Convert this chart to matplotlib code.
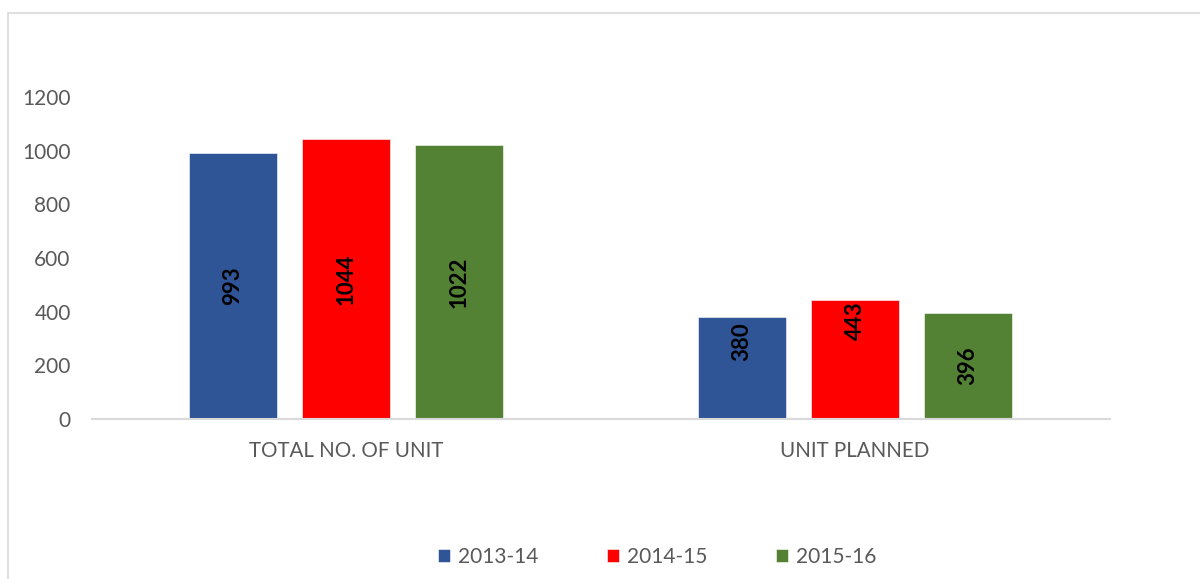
#!/usr/bin/env python3

import matplotlib.pyplot as plt
import numpy as np
from matplotlib.patches import Rectangle


CATEGORIES = ["TOTAL NO. OF UNIT", "UNIT PLANNED"]
YEARS = ["2013-14", "2014-15", "2015-16"]
VALUES = {
    "2013-14": [993, 380],
    "2014-15": [1044, 443],
    "2015-16": [1022, 396],
}
COLORS = ["#2F5597", "#FF0000", "#548235"]

# labels that sit off the bar centre
LABEL_Y = {("2013-14", 1): 287, ("2014-15", 1): 365}

TEXT_GREY = "#595959"
LINE_GREY = "#D9D9D9"
FONT = "Lato"


def main() -> None:
    plt.rcParams["font.family"] = [FONT, "DejaVu Sans"]
    fig = plt.figure(figsize=(12, 5.79), dpi=100)

    # outer chart frame, running off the right and bottom edges
    fig.patches.append(
        Rectangle((8 / 1200, -0.1), 1.2, 1 - 13 / 579 + 0.1,
                  transform=fig.transFigure, fill=False,
                  edgecolor=LINE_GREY, linewidth=1.2)
    )

    ax = fig.add_axes([91.5 / 1200, 1 - 419 / 579, 1018 / 1200, 322 / 579])

    x = np.arange(len(CATEGORIES))
    width = 0.173
    offset = 0.222
    for i, (year, color) in enumerate(zip(YEARS, COLORS)):
        pos = x + (i - 1) * offset
        vals = VALUES[year]
        ax.bar(pos, vals, width=width, color=color, edgecolor="white",
               linewidth=0.4, label=year, zorder=2)
        for j, (px, v) in enumerate(zip(pos, vals)):
            y = LABEL_Y.get((year, j), v / 2)
            ax.text(px, y, str(v), rotation=90, ha="center", va="center",
                    fontsize=16, fontweight="bold", color="black", zorder=3)

    ax.set_xlim(-0.5, 1.5)
    ax.set_ylim(0, 1200)
    ax.set_yticks(range(0, 1201, 200))
    ax.set_xticks(x)
    ax.set_xticklabels(CATEGORIES)
    ax.tick_params(axis="y", length=0, pad=15, labelsize=15, labelcolor=TEXT_GREY)
    ax.tick_params(axis="x", length=0, pad=16, labelsize=14.8, labelcolor=TEXT_GREY)

    for side in ("top", "right", "left"):
        ax.spines[side].set_visible(False)
    ax.spines["bottom"].set_color(LINE_GREY)
    ax.spines["bottom"].set_linewidth(1.5)
    ax.set_facecolor("none")

    fig.legend(
        loc="center", bbox_to_anchor=(0.5475, 1 - 557 / 579), ncol=3,
        frameon=False, fontsize=15, labelcolor=TEXT_GREY,
        handlelength=0.6, handleheight=0.6, handletextpad=0.35,
        columnspacing=3.3,
    )

    fig.savefig("out.png", dpi=100, facecolor="white")


if __name__ == "__main__":
    main()
